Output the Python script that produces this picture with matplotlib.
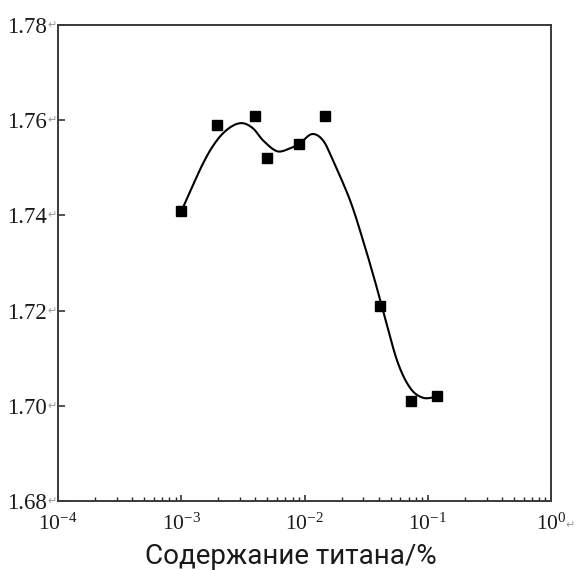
import matplotlib
matplotlib.use("Agg")
import matplotlib.pyplot as plt
import numpy as np

# measured points
ti_content = [0.001, 0.00195, 0.0040, 0.0050, 0.0090, 0.0147, 0.041, 0.073, 0.119]
density = [1.741, 1.759, 1.761, 1.752, 1.755, 1.761, 1.721, 1.701, 1.702]

# smooth curve (knots)
curve_x = [0.00101, 0.00150, 0.00195, 0.00249, 0.00311, 0.00382, 0.00460,
           0.00598, 0.00762, 0.00920, 0.0115, 0.0141, 0.0170, 0.0234, 0.0299,
           0.0373, 0.0434, 0.0564, 0.0718, 0.0914, 0.119]
curve_y = [1.7411, 1.7509, 1.7558, 1.7585, 1.7594, 1.7583, 1.7558,
           1.7535, 1.7541, 1.7552, 1.7571, 1.7558, 1.7516, 1.7432, 1.7347,
           1.7262, 1.7200, 1.7095, 1.7038, 1.7017, 1.7019]

y_ticks = [1.68, 1.70, 1.72, 1.74, 1.76, 1.78]
y_labels = ["1.68", "1.70", "1.72", "1.74", "1.76", "1.78"]
x_ticks = [1e-4, 1e-3, 1e-2, 1e-1, 1e0]
x_labels = [r"$10^{-4}$", r"$10^{-3}$", r"$10^{-2}$", r"$10^{-1}$", r"$10^{0}$"]


def catmull_rom(px, py, n=12):
    # smooth line through the knots, only for drawing
    px = np.asarray(px, float)
    py = np.asarray(py, float)
    px = np.r_[2 * px[0] - px[1], px, 2 * px[-1] - px[-2]]
    py = np.r_[2 * py[0] - py[1], py, 2 * py[-1] - py[-2]]
    t = np.linspace(0, 1, n, endpoint=False)
    xs, ys = [], []
    for i in range(1, len(px) - 2):
        for arr, out in ((px, xs), (py, ys)):
            p0, p1, p2, p3 = arr[i - 1], arr[i], arr[i + 1], arr[i + 2]
            out.extend(0.5 * (2 * p1 + (-p0 + p2) * t
                              + (2 * p0 - 5 * p1 + 4 * p2 - p3) * t ** 2
                              + (-p0 + 3 * p1 - 3 * p2 + p3) * t ** 3))
    xs.append(px[-2])
    ys.append(py[-2])
    return np.array(xs), np.array(ys)


plt.rcParams["mathtext.fontset"] = "custom"
plt.rcParams["mathtext.rm"] = "Liberation Serif"
plt.rcParams["mathtext.it"] = "Liberation Serif"

fig = plt.figure(figsize=(5.76, 5.70), dpi=100)
ax = fig.add_axes([0.1007, 0.121, 0.8559, 0.835])

lx, ly = catmull_rom(np.log10(curve_x), curve_y)
ax.plot(10 ** lx, ly, color="black", lw=1.5, zorder=2)
ax.plot(ti_content, density, ls="none", marker="s", ms=6.5, color="black", zorder=3)

ax.set_xscale("log")
ax.set_xlim(1e-4, 1e0)
ax.set_ylim(1.68, 1.78)

ax.set_xticks(x_ticks)
ax.set_xticklabels(x_labels, fontsize=15.5, color="#1a1a1a")
ax.set_yticks(y_ticks)
ax.set_yticklabels(y_labels, fontfamily="Liberation Serif", fontsize=16.5, color="#1a1a1a")

ax.tick_params(axis="y", direction="in", length=5, width=1.1, pad=8, color="#222222")
ax.tick_params(axis="x", which="major", direction="in", length=4, width=1.1, pad=8, color="#222222")
ax.tick_params(axis="x", which="minor", direction="in", length=3, width=1.0, color="#222222")

for s in ax.spines.values():
    s.set_linewidth(1.4)
    s.set_color("#3a3a3a")

# little return marks left over next to the labels
for v in y_ticks:
    ax.annotate("\u21b5", xy=(0, v), xycoords=("axes fraction", "data"),
                xytext=(-4, 0), textcoords="offset points",
                ha="center", va="center", fontsize=8, color="#999999",
                family="DejaVu Sans")
ax.annotate("\u21b5", xy=(1, 0), xycoords="axes fraction",
            xytext=(14, -17), textcoords="offset points",
            ha="center", va="center", fontsize=8, color="#999999",
            family="DejaVu Sans", annotation_clip=False)

ax.set_xlabel("Содержание титана/%", fontsize=20, family="Roboto",
              color="#1a1a1a", labelpad=7)
ax.xaxis.label.set_x(0.473)

fig.savefig("out.png", dpi=100)
